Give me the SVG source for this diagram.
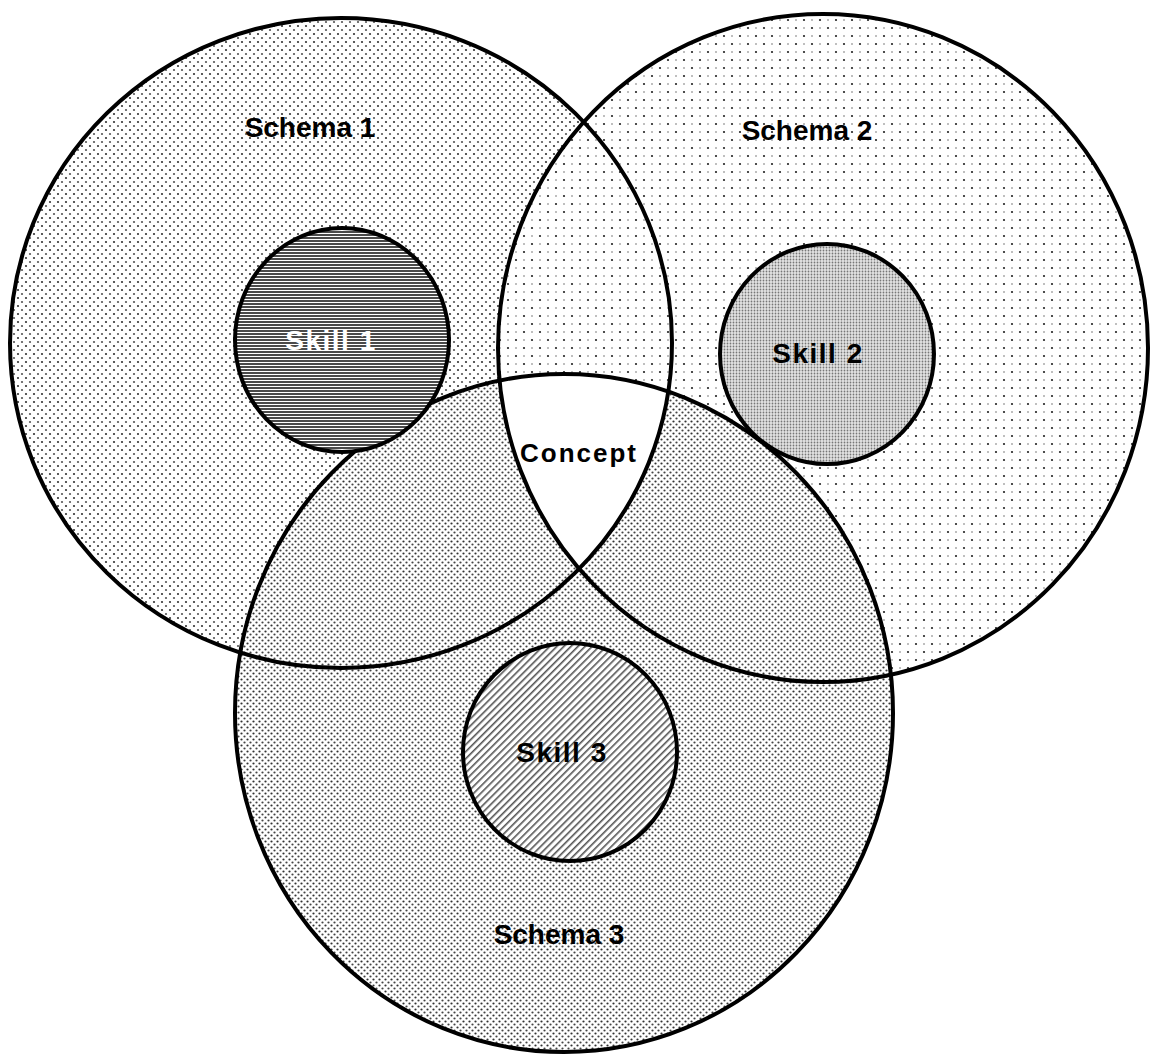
<svg xmlns="http://www.w3.org/2000/svg" width="1154" height="1057" viewBox="0 0 1154 1057">
  <style>
    .outline { fill: none; stroke: #000; stroke-width: 4; }
    .label { font-family: "Liberation Sans", Arial, sans-serif; font-weight: bold; fill: #000; text-anchor: middle; }
    .schema { font-size: 28px; }
    .skill { font-size: 28px; letter-spacing: 1.5px; }
  </style>
  <defs>
    <pattern id="p1" width="8" height="8" patternUnits="userSpaceOnUse">
      <rect width="8" height="8" fill="#fff"/>
      <circle cx="2" cy="2" r="1.1" fill="#333"/>
      <circle cx="6" cy="6" r="1.1" fill="#555"/>
    </pattern>
    <pattern id="p2" width="16" height="16" patternUnits="userSpaceOnUse">
      <rect width="16" height="16" fill="#fff"/>
      <circle cx="4" cy="4" r="1.1" fill="#222"/>
      <circle cx="12" cy="12" r="1.1" fill="#222"/>
      <circle cx="12" cy="4" r="1" fill="#aaa"/>
      <circle cx="4" cy="12" r="1" fill="#aaa"/>
    </pattern>
    <pattern id="p3" width="6" height="6" patternUnits="userSpaceOnUse">
      <rect width="6" height="6" fill="#fff"/>
      <circle cx="1.5" cy="1.5" r="1.1" fill="#333"/>
      <circle cx="4.5" cy="4.5" r="1.1" fill="#444"/>
    </pattern>
    <pattern id="ps1" width="6" height="3" patternUnits="userSpaceOnUse">
      <rect width="6" height="3" fill="#fff"/>
      <rect width="6" height="2" fill="#4a4a4a"/>
    </pattern>
    <pattern id="ps2" width="3" height="3" patternUnits="userSpaceOnUse">
      <rect width="3" height="3" fill="#e4e4e4"/>
      <circle cx="1.5" cy="1.5" r="0.9" fill="#777"/>
    </pattern>
    <pattern id="ps3" width="5" height="5" patternUnits="userSpaceOnUse" patternTransform="rotate(-45)">
      <rect width="5" height="5" fill="#fff"/>
      <rect width="5" height="1.6" fill="#555"/>
    </pattern>
    <clipPath id="c1"><ellipse cx="341" cy="343" rx="331" ry="325"/></clipPath>
    <clipPath id="c2"><ellipse cx="823" cy="348" rx="325" ry="334"/></clipPath>
  </defs>
  <rect width="1154" height="1057" fill="#fff"/>

  <g id="schema1">
    <ellipse cx="341" cy="343" rx="331" ry="325" fill="url(#p1)"/>
  </g>
  <g id="schema2">
    <ellipse cx="823" cy="348" rx="325" ry="334" fill="url(#p2)"/>
  </g>
  <g id="schema3">
    <ellipse cx="564" cy="713" rx="329" ry="339" fill="url(#p3)"/>
  </g>
  <g id="concept">
    <g clip-path="url(#c1)"><g clip-path="url(#c2)">
      <ellipse cx="564" cy="713" rx="329" ry="339" fill="#fff"/>
    </g></g>
    <text class="label" x="579" y="462" font-size="26" letter-spacing="2">Concept</text>
  </g>
  <g id="outlines">
    <ellipse class="outline" cx="341" cy="343" rx="331" ry="325"/>
    <ellipse class="outline" cx="823" cy="348" rx="325" ry="334"/>
    <ellipse class="outline" cx="564" cy="713" rx="329" ry="339"/>
  </g>
  <text class="label schema" x="310" y="137">Schema 1</text>
  <text class="label schema" x="807" y="140">Schema 2</text>
  <text class="label schema" x="559" y="944">Schema 3</text>

  <g id="skill1">
    <ellipse cx="342" cy="340" rx="107" ry="112" fill="url(#ps1)" stroke="#000" stroke-width="4"/>
    <text class="label skill" x="331" y="350" style="fill:#fff">Skill 1</text>
  </g>
  <g id="skill2">
    <ellipse cx="827" cy="354" rx="107" ry="110" fill="url(#ps2)" stroke="#000" stroke-width="4"/>
    <text class="label skill" x="818" y="363">Skill 2</text>
  </g>
  <g id="skill3">
    <ellipse cx="570" cy="752" rx="107" ry="109" fill="url(#ps3)" stroke="#000" stroke-width="4"/>
    <text class="label skill" x="562" y="762">Skill 3</text>
  </g>
</svg>
